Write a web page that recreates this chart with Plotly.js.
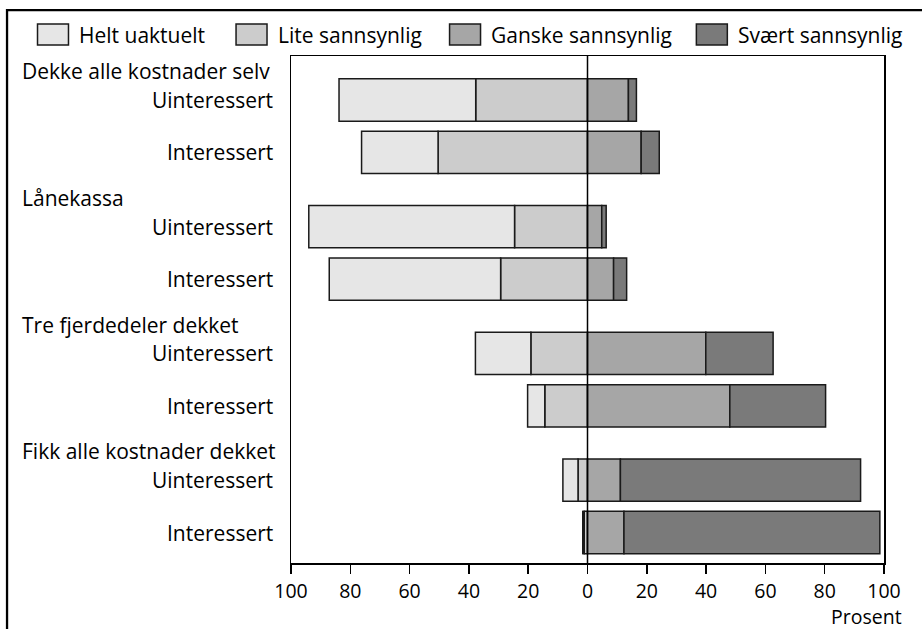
<!DOCTYPE html>
<html>
<head>
<meta charset="utf-8">
<script src="https://cdn.plot.ly/plotly-3.0.1.min.js"></script>
<style>html,body{margin:0;padding:0;background:#fff;}#chart{width:922px;height:629px;}</style>
</head>
<body>
<div id="chart"></div>
<script>
// ---- data ----
const groups = ["Dekke alle kostnader selv", "Lånekassa", "Tre fjerdedeler dekket", "Fikk alle kostnader dekket"];
const subgroups = ["Uinteressert", "Interessert"];
const seriesNames = ["Helt uaktuelt", "Lite sannsynlig", "Ganske sannsynlig", "Svært sannsynlig"];
// order of rows: for each group, Uinteressert then Interessert
const heltUaktuelt     = [46.1, 25.8, 69.4, 57.8, 18.7, 5.8, 5.1, 0.5];
const liteSannsynlig   = [37.7, 50.4, 24.6, 29.3, 19.1, 14.4, 3.2, 1.1];
const ganskeSannsynlig = [13.8, 18.1, 4.8, 8.8, 39.9, 48.0, 11.1, 12.3];
const svaertSannsynlig = [2.7, 6.1, 1.5, 4.4, 22.7, 32.3, 81.0, 86.3];
const tickValues = [-100, -80, -60, -40, -20, 0, 20, 40, 60, 80, 100];
const tickLabels = ["100", "80", "60", "40", "20", "0", "20", "40", "60", "80", "100"];
const axisTitle = "Prosent";

// ---- layout helpers ----
const colors = ["#e6e6e6", "#cccccc", "#a6a6a6", "#7a7a7a"];
const L = 291, R = 884.5, T = 56, B = 563, W = 922, H = 629;
const PW = R - L, PH = B - T;
const px = x => (x - L) / PW;
const py = y => (B - y) / PH;
const period = 2.418;
const rowPos = [];
const rowLabel = [];
groups.forEach((g, gi) => subgroups.forEach((s, si) => { rowPos.push(gi * period + si); rowLabel.push(s); }));

const line = {color: "#1a1a1a", width: 1.5};
const neg = a => a.map(v => -v);
function tr(name, vals, color) {
  return {type: "bar", orientation: "h", name: name, x: vals, y: rowPos,
    width: 0.807, marker: {color: color, line: line}, showlegend: false, hoverinfo: "x+name"};
}
const data = [
  tr(seriesNames[1], neg(liteSannsynlig), colors[1]),
  tr(seriesNames[0], neg(heltUaktuelt), colors[0]),
  tr(seriesNames[2], ganskeSannsynlig, colors[2]),
  tr(seriesNames[3], svaertSannsynlig, colors[3])
];

const font = {family: "Open Sans, Noto Sans, sans-serif", size: 21, color: "#000"};
const ann = o => Object.assign({showarrow: false, borderpad: 0, borderwidth: 0, font: font}, o);
const annotations = [];
const shapes = [];
// row labels
rowPos.forEach((p, i) => annotations.push(ann({xref: "paper", yref: "y", x: px(273), y: p, text: rowLabel[i],
  xanchor: "right", yanchor: "middle"})));
// group headers
groups.forEach((g, gi) => annotations.push(ann({xref: "paper", yref: "y", x: px(22), y: gi * period - 0.55, text: g,
  xanchor: "left", yanchor: "middle"})));
// axis title
annotations.push(ann({xref: "paper", yref: "paper", x: px(903), y: py(616), text: axisTitle,
  xanchor: "right", yanchor: "middle", font: {family: font.family, size: 19.5, color: "#000"}}));
// legend
const legSq = [37.3, 236, 449.7, 696.7];
const legTx = [79, 278, 491, 738.5];
seriesNames.forEach((n, i) => {
  shapes.push({type: "rect", xref: "paper", yref: "paper", x0: px(legSq[i]), x1: px(legSq[i] + 31),
    y0: py(45), y1: py(24), fillcolor: colors[i], line: line, layer: "above"});
  annotations.push(ann({xref: "paper", yref: "paper", x: px(legTx[i]), y: py(35), text: n,
    xanchor: "left", yanchor: "middle"}));
});
// outer frame (top and left)
shapes.push({type: "path", xref: "paper", yref: "paper",
  path: `M ${px(6.8)} ${py(640)} L ${px(6.8)} ${py(10.2)} L ${px(930)} ${py(10.2)}`,
  line: {color: "#000", width: 2.3}, layer: "above"});
// zero line
shapes.push({type: "line", xref: "x", yref: "paper", x0: 0, x1: 0, y0: 0, y1: 1,
  line: {color: "#000", width: 1.5}, layer: "above"});

const layout = {
  width: W, height: H,
  margin: {l: L, r: W - R, t: T, b: H - B, pad: 0},
  paper_bgcolor: "#fff", plot_bgcolor: "#fff",
  barmode: "relative",
  showlegend: false,
  font: font,
  xaxis: {range: [-100, 100], tickvals: tickValues, ticktext: tickLabels, ticks: "outside", ticklen: 9,
    tickwidth: 1.5, tickcolor: "#000", showline: true, mirror: true, linecolor: "#000", linewidth: 1.5,
    showgrid: false, zeroline: false, fixedrange: true, tickfont: {family: font.family, size: 19.5, color: "#000"},
    ticklabelstandoff: 1},
  yaxis: {range: [(B - 100) / 52.4, (T - 100) / 52.4], showticklabels: false, ticks: "", showline: true,
    mirror: true, linecolor: "#000", linewidth: 1.5, showgrid: false, zeroline: false, fixedrange: true},
  annotations: annotations,
  shapes: shapes
};
Plotly.newPlot("chart", data, layout, {displayModeBar: false, staticPlot: true});
</script>
</body>
</html>
